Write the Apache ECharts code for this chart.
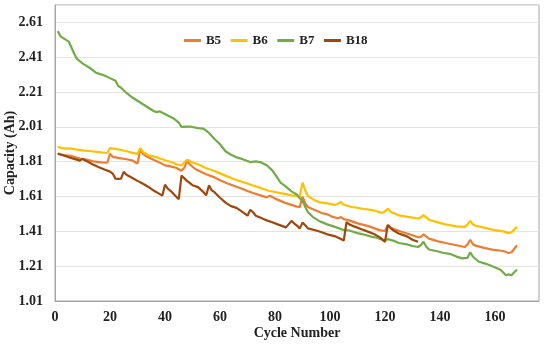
<!DOCTYPE html>
<html>
<head>
<meta charset="utf-8">
<script src="https://cdn.jsdelivr.net/npm/echarts@6/dist/echarts.min.js"></script>
<style>html,body{margin:0;padding:0;background:#fff}#c{width:550px;height:346px}</style>
</head>
<body>
<div id="c"></div>
<script>
var yTicks = ['1.01','1.21','1.41','1.61','1.81','2.01','2.21','2.41','2.61'];
var xTicks = [0,20,40,60,80,100,120,140,160];

var b5Cycles = [1,3,6,9,11,14,17,19,20,21,23,26,28,30,31,32,33,36,38,40,42,44,46,47,48,49,51,53,55,58,60,63,65,68,70,72,75,77,78,79,80,82,84,86,88,89,90,91,92,94,97,99,101,103,104,105,107,110,114,118,120,121,122,123,126,130,132,133,134,136,139,142,146,149,150,151,152,153,156,159,163,165,166,167,168];
var b5Cap = [1.857,1.848,1.843,1.828,1.823,1.812,1.806,1.804,1.855,1.838,1.832,1.824,1.818,1.800,1.880,1.855,1.843,1.820,1.806,1.789,1.783,1.775,1.758,1.775,1.812,1.795,1.768,1.752,1.738,1.720,1.703,1.683,1.672,1.655,1.642,1.630,1.615,1.605,1.614,1.608,1.598,1.585,1.572,1.562,1.552,1.550,1.610,1.570,1.550,1.535,1.515,1.508,1.493,1.485,1.492,1.480,1.473,1.456,1.440,1.417,1.412,1.447,1.432,1.425,1.408,1.388,1.376,1.378,1.393,1.368,1.354,1.343,1.330,1.320,1.335,1.362,1.335,1.328,1.315,1.305,1.297,1.286,1.290,1.310,1.330];

var b6Cycles = [1,3,6,8,10,13,16,19,20,22,24,26,28,30,31,32,34,37,40,42,44,46,47,48,49,50,52,55,58,60,62,65,68,70,72,75,78,80,82,84,86,88,89,90,91,92,94,96,99,102,104,105,108,112,116,119,120,121,122,125,129,132,133,134,136,139,142,146,149,150,151,152,153,156,159,163,165,166,167,168];
var b6Cap = [1.895,1.886,1.885,1.879,1.875,1.870,1.865,1.860,1.888,1.884,1.877,1.870,1.862,1.855,1.888,1.866,1.847,1.836,1.818,1.810,1.797,1.788,1.805,1.821,1.815,1.805,1.795,1.772,1.757,1.743,1.730,1.711,1.695,1.685,1.673,1.658,1.642,1.636,1.630,1.624,1.617,1.612,1.610,1.690,1.645,1.612,1.592,1.578,1.571,1.562,1.578,1.563,1.550,1.540,1.530,1.516,1.525,1.540,1.522,1.502,1.492,1.484,1.490,1.503,1.477,1.463,1.450,1.439,1.436,1.450,1.470,1.450,1.442,1.431,1.420,1.410,1.400,1.405,1.420,1.437];

var b7Cycles = [1,2,4,5,7,8,10,13,15,18,20,22,23,24,26,28,31,33,36,37,38,41,43,45,46,49,52,54,56,58,60,62,64,66,68,71,73,75,77,79,81,82,84,86,88,89,90,91,92,94,96,99,101,104,105,107,110,112,115,117,119,120,121,123,125,128,130,132,133,134,135,136,139,141,144,146,148,150,151,152,154,157,159,162,164,165,166,167,168];
var b7Cap = [2.560,2.530,2.510,2.500,2.430,2.400,2.375,2.345,2.320,2.305,2.290,2.275,2.245,2.235,2.205,2.180,2.150,2.130,2.100,2.095,2.100,2.075,2.060,2.035,2.010,2.012,2.003,2.000,1.975,1.940,1.910,1.870,1.850,1.835,1.826,1.808,1.812,1.806,1.790,1.760,1.715,1.690,1.667,1.640,1.620,1.600,1.585,1.550,1.520,1.490,1.470,1.450,1.440,1.423,1.418,1.415,1.400,1.393,1.380,1.373,1.362,1.360,1.365,1.357,1.343,1.335,1.326,1.320,1.330,1.350,1.322,1.306,1.296,1.287,1.279,1.265,1.255,1.258,1.290,1.264,1.237,1.222,1.210,1.190,1.158,1.163,1.158,1.175,1.190];

var b18Cycles = [1,3,5,7,9,10,12,14,16,18,20,21,22,23,24,25,26,28,30,32,34,36,38,39,40,41,42,44,45,46,48,50,52,54,55,56,57,58,60,62,64,66,68,70,71,72,73,75,77,79,81,84,86,87,88,89,90,91,92,95,97,99,102,104,105,106,107,109,111,114,116,118,120,121,122,123,125,128,130,132];
var b18Cap = [1.856,1.847,1.836,1.826,1.816,1.826,1.810,1.792,1.778,1.765,1.753,1.742,1.712,1.711,1.713,1.752,1.735,1.718,1.700,1.683,1.665,1.643,1.625,1.615,1.678,1.656,1.643,1.610,1.595,1.730,1.700,1.675,1.664,1.635,1.617,1.675,1.645,1.635,1.603,1.575,1.555,1.545,1.523,1.500,1.534,1.520,1.500,1.487,1.473,1.462,1.450,1.433,1.470,1.455,1.443,1.427,1.460,1.445,1.427,1.415,1.405,1.393,1.381,1.366,1.357,1.463,1.450,1.437,1.425,1.407,1.395,1.377,1.350,1.445,1.430,1.416,1.398,1.381,1.362,1.350];

function pairs(xs, ys){ return xs.map(function(x,i){ return [x, ys[i]]; }); }

var FONT = '"Liberation Serif", "Times New Roman", serif';
var chart = echarts.init(document.getElementById('c'), null, {renderer:'canvas'});
function mk(name, xs, ys, color){
  return {name:name, type:'line', data:pairs(xs,ys), symbol:'none', smooth:false,
    lineStyle:{color:color, width:2.2}, itemStyle:{color:color}};
}
chart.setOption({
  animation:false,
  backgroundColor:'#fff',
  grid:{left:55, right:11, top:5, bottom:45, show:true, borderColor:'#a6a6a6', borderWidth:1,
    containLabel:false, outerBoundsMode:'none'},
  legend:{top:29, left:'center', itemWidth:17, itemHeight:3, itemGap:8,
    lineStyle:{width:3},
    textStyle:{fontFamily:FONT, fontWeight:'bold', fontSize:13, color:'#222'},
    data:['B5','B6','B7','B18']},
  xAxis:{type:'value', min:0, max:176, interval:20,
    name:'Cycle Number', nameLocation:'middle', nameGap:25, nameMoveOverlap:false,
    nameTextStyle:{fontFamily:FONT, fontWeight:'bold', fontSize:14, color:'#222'},
    axisLine:{show:true, lineStyle:{color:'#a6a6a6'}}, axisTick:{show:false},
    splitLine:{show:false},
    axisLabel:{fontFamily:FONT, fontWeight:'bold', fontSize:14, color:'#222', margin:9,
      showMaxLabel:false,
      formatter:function(v){ return xTicks.indexOf(v) >= 0 ? String(v) : ''; }}},
  yAxis:{type:'value', min:1.01, max:2.71, interval:0.2,
    name:'Capacity (Ah)', nameLocation:'middle', nameGap:38, nameRotate:90, nameMoveOverlap:false,
    nameTextStyle:{fontFamily:FONT, fontWeight:'bold', fontSize:14, color:'#222'},
    axisLine:{show:true, lineStyle:{color:'#a6a6a6'}}, axisTick:{show:false},
    splitLine:{show:true, lineStyle:{color:'#e3e3e3', width:1}},
    axisLabel:{fontFamily:FONT, fontWeight:'bold', fontSize:14, color:'#222', margin:12,
      showMaxLabel:false,
      formatter:function(v){ var s=v.toFixed(2); return yTicks.indexOf(s) >= 0 ? s : ''; }}},
  series:[
    mk('B5', b5Cycles, b5Cap, '#ED7D31'),
    mk('B6', b6Cycles, b6Cap, '#FFC000'),
    mk('B7', b7Cycles, b7Cap, '#70AD47'),
    mk('B18', b18Cycles, b18Cap, '#9E480E')
  ]
});
</script>
</body>
</html>
